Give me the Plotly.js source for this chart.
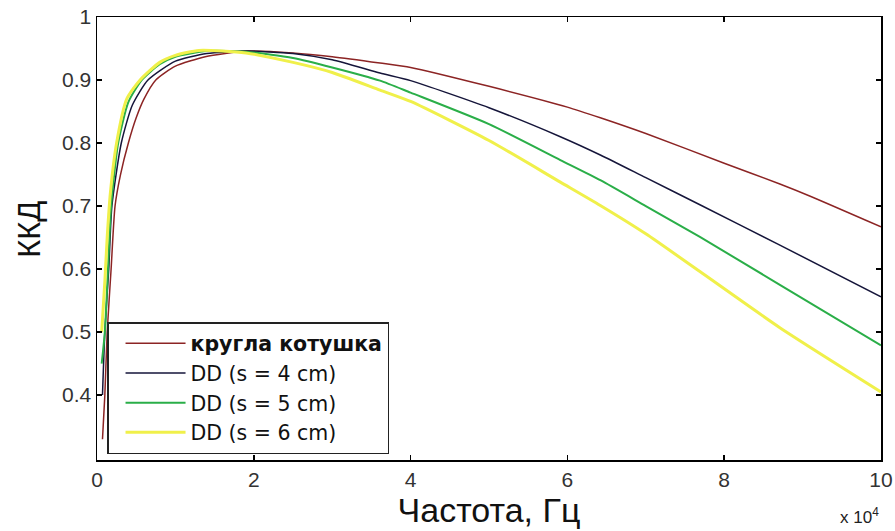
<!DOCTYPE html>
<html>
<head>
<meta charset="utf-8">
<script src="https://cdn.plot.ly/plotly-3.0.1.min.js"></script>
<style>html,body{margin:0;padding:0;background:#fff;}#chart{width:895px;height:531px;}</style>
</head>
<body>
<div id="chart"></div>
<script>
// Frequencies in units of 10^4 Hz (as on the axis)
const xRound = [0.07, 0.1, 0.13, 0.18, 0.23, 0.3, 0.4, 0.5, 0.6, 0.75, 1.0, 1.38, 1.9, 2.5, 3.0, 3.61, 4.0, 5.0, 6.0, 6.42, 7.0, 8.0, 8.71, 9.09, 10.0];
const yRound = [0.33, 0.40, 0.50, 0.60, 0.70, 0.75, 0.80, 0.84, 0.87, 0.90, 0.922, 0.937, 0.946, 0.943, 0.937, 0.927, 0.920, 0.890, 0.857, 0.840, 0.815, 0.768, 0.735, 0.716, 0.667];

const xDD4 = [0.07, 0.1, 0.15, 0.19, 0.31, 0.45, 0.65, 1.0, 1.4, 1.9, 2.5, 3.0, 3.61, 4.0, 5.0, 5.91, 6.42, 7.0, 7.69, 8.71, 10.0];
const yDD4 = [0.40, 0.50, 0.60, 0.70, 0.80, 0.86, 0.90, 0.930, 0.942, 0.946, 0.942, 0.932, 0.911, 0.899, 0.856, 0.810, 0.781, 0.745, 0.702, 0.638, 0.556];

const xDD5 = [0.06, 0.1, 0.14, 0.18, 0.27, 0.4, 0.57, 0.8, 1.0, 1.4, 1.9, 2.5, 3.0, 3.61, 4.0, 5.0, 5.91, 6.42, 7.0, 7.69, 8.71, 10.0];
const yDD5 = [0.45, 0.50, 0.60, 0.70, 0.80, 0.865, 0.90, 0.925, 0.937, 0.946, 0.945, 0.935, 0.920, 0.899, 0.880, 0.830, 0.773, 0.741, 0.700, 0.651, 0.575, 0.479];

const xDD6 = [0.06, 0.1, 0.13, 0.17, 0.25, 0.38, 0.55, 0.8, 1.0, 1.3, 1.9, 2.5, 3.0, 3.61, 4.0, 5.0, 5.91, 6.42, 7.0, 7.69, 8.71, 10.0];
const yDD6 = [0.50, 0.58, 0.65, 0.72, 0.80, 0.87, 0.90, 0.928, 0.939, 0.947, 0.943, 0.928, 0.912, 0.884, 0.866, 0.804, 0.738, 0.701, 0.656, 0.596, 0.507, 0.405];

const names = ['<span style="font-weight:bold;font-family:\'DejaVu Sans\'">кругла котушка</span>', 'DD (s = 4 cm)', 'DD (s = 5 cm)', 'DD (s = 6 cm)'];
const xTicks = [0, 2, 4, 6, 8, 10];
const yTicks = [0.4, 0.5, 0.6, 0.7, 0.8, 0.9, 1];
const yTickText = ['0.4', '0.5', '0.6', '0.7', '0.8', '0.9', '1'];

const traces = [
  {x: xRound, y: yRound, name: names[0], mode: 'lines', line: {color: '#8c2424', width: 1.5, shape: 'spline', smoothing: 0.6}},
  {x: xDD4, y: yDD4, name: names[1], mode: 'lines', line: {color: '#15153a', width: 1.5, shape: 'spline', smoothing: 0.6}},
  {x: xDD5, y: yDD5, name: names[2], mode: 'lines', line: {color: '#2aae48', width: 2, shape: 'spline', smoothing: 0.6}},
  {x: xDD6, y: yDD6, name: names[3], mode: 'lines', line: {color: '#f0f04a', width: 3, shape: 'spline', smoothing: 0.6}}
];

const layout = {
  width: 895, height: 531,
  margin: {l: 97, r: 14, t: 17, b: 71},
  paper_bgcolor: '#fff', plot_bgcolor: '#fff',
  font: {family: 'Liberation Sans, Arial, sans-serif', color: '#222', size: 20},
  showlegend: true,
  xaxis: {
    range: [0, 10], tickvals: xTicks, ticktext: xTicks.map(String),
    ticks: 'inside', ticklen: 5, tickwidth: 1.5, tickcolor: '#000',
    showline: true, linecolor: '#000', linewidth: 1.5, mirror: 'ticks',
    showgrid: false, zeroline: false,
    tickfont: {size: 21, color: '#333'},
    title: {text: 'Частота, Гц', font: {size: 34, color: '#111'}, standoff: 1}
  },
  yaxis: {
    range: [0.297, 1.0], tickvals: yTicks, ticktext: yTickText,
    ticks: 'inside', ticklen: 5, tickwidth: 1.5, tickcolor: '#000',
    showline: true, linecolor: '#000', linewidth: 1.5, mirror: 'ticks',
    showgrid: false, zeroline: false,
    tickfont: {size: 21, color: '#333'}
  },
  legend: {
    x: 0.0128, y: 0.3115, xanchor: 'left', yanchor: 'top',
    bgcolor: '#fff', bordercolor: '#222', borderwidth: 1.5,
    font: {size: 20.5, color: '#111', family: 'DejaVu Sans, sans-serif'},
    itemwidth: 60, tracegroupgap: 0, indentation: 12
  },
  annotations: [
    {text: 'ККД', xref: 'paper', yref: 'paper', x: -0.086, y: 0.521, xanchor: 'center', yanchor: 'middle', textangle: -90, showarrow: false, font: {size: 31, color: '#111'}},
    {text: 'x 10<sup>4</sup>', xref: 'paper', yref: 'paper', x: 1.0, y: -0.098, xanchor: 'right', yanchor: 'top', showarrow: false, font: {size: 17, color: '#222'}}
  ]
};

Plotly.newPlot('chart', traces, layout, {displayModeBar: false, staticPlot: true});
</script>
</body>
</html>
